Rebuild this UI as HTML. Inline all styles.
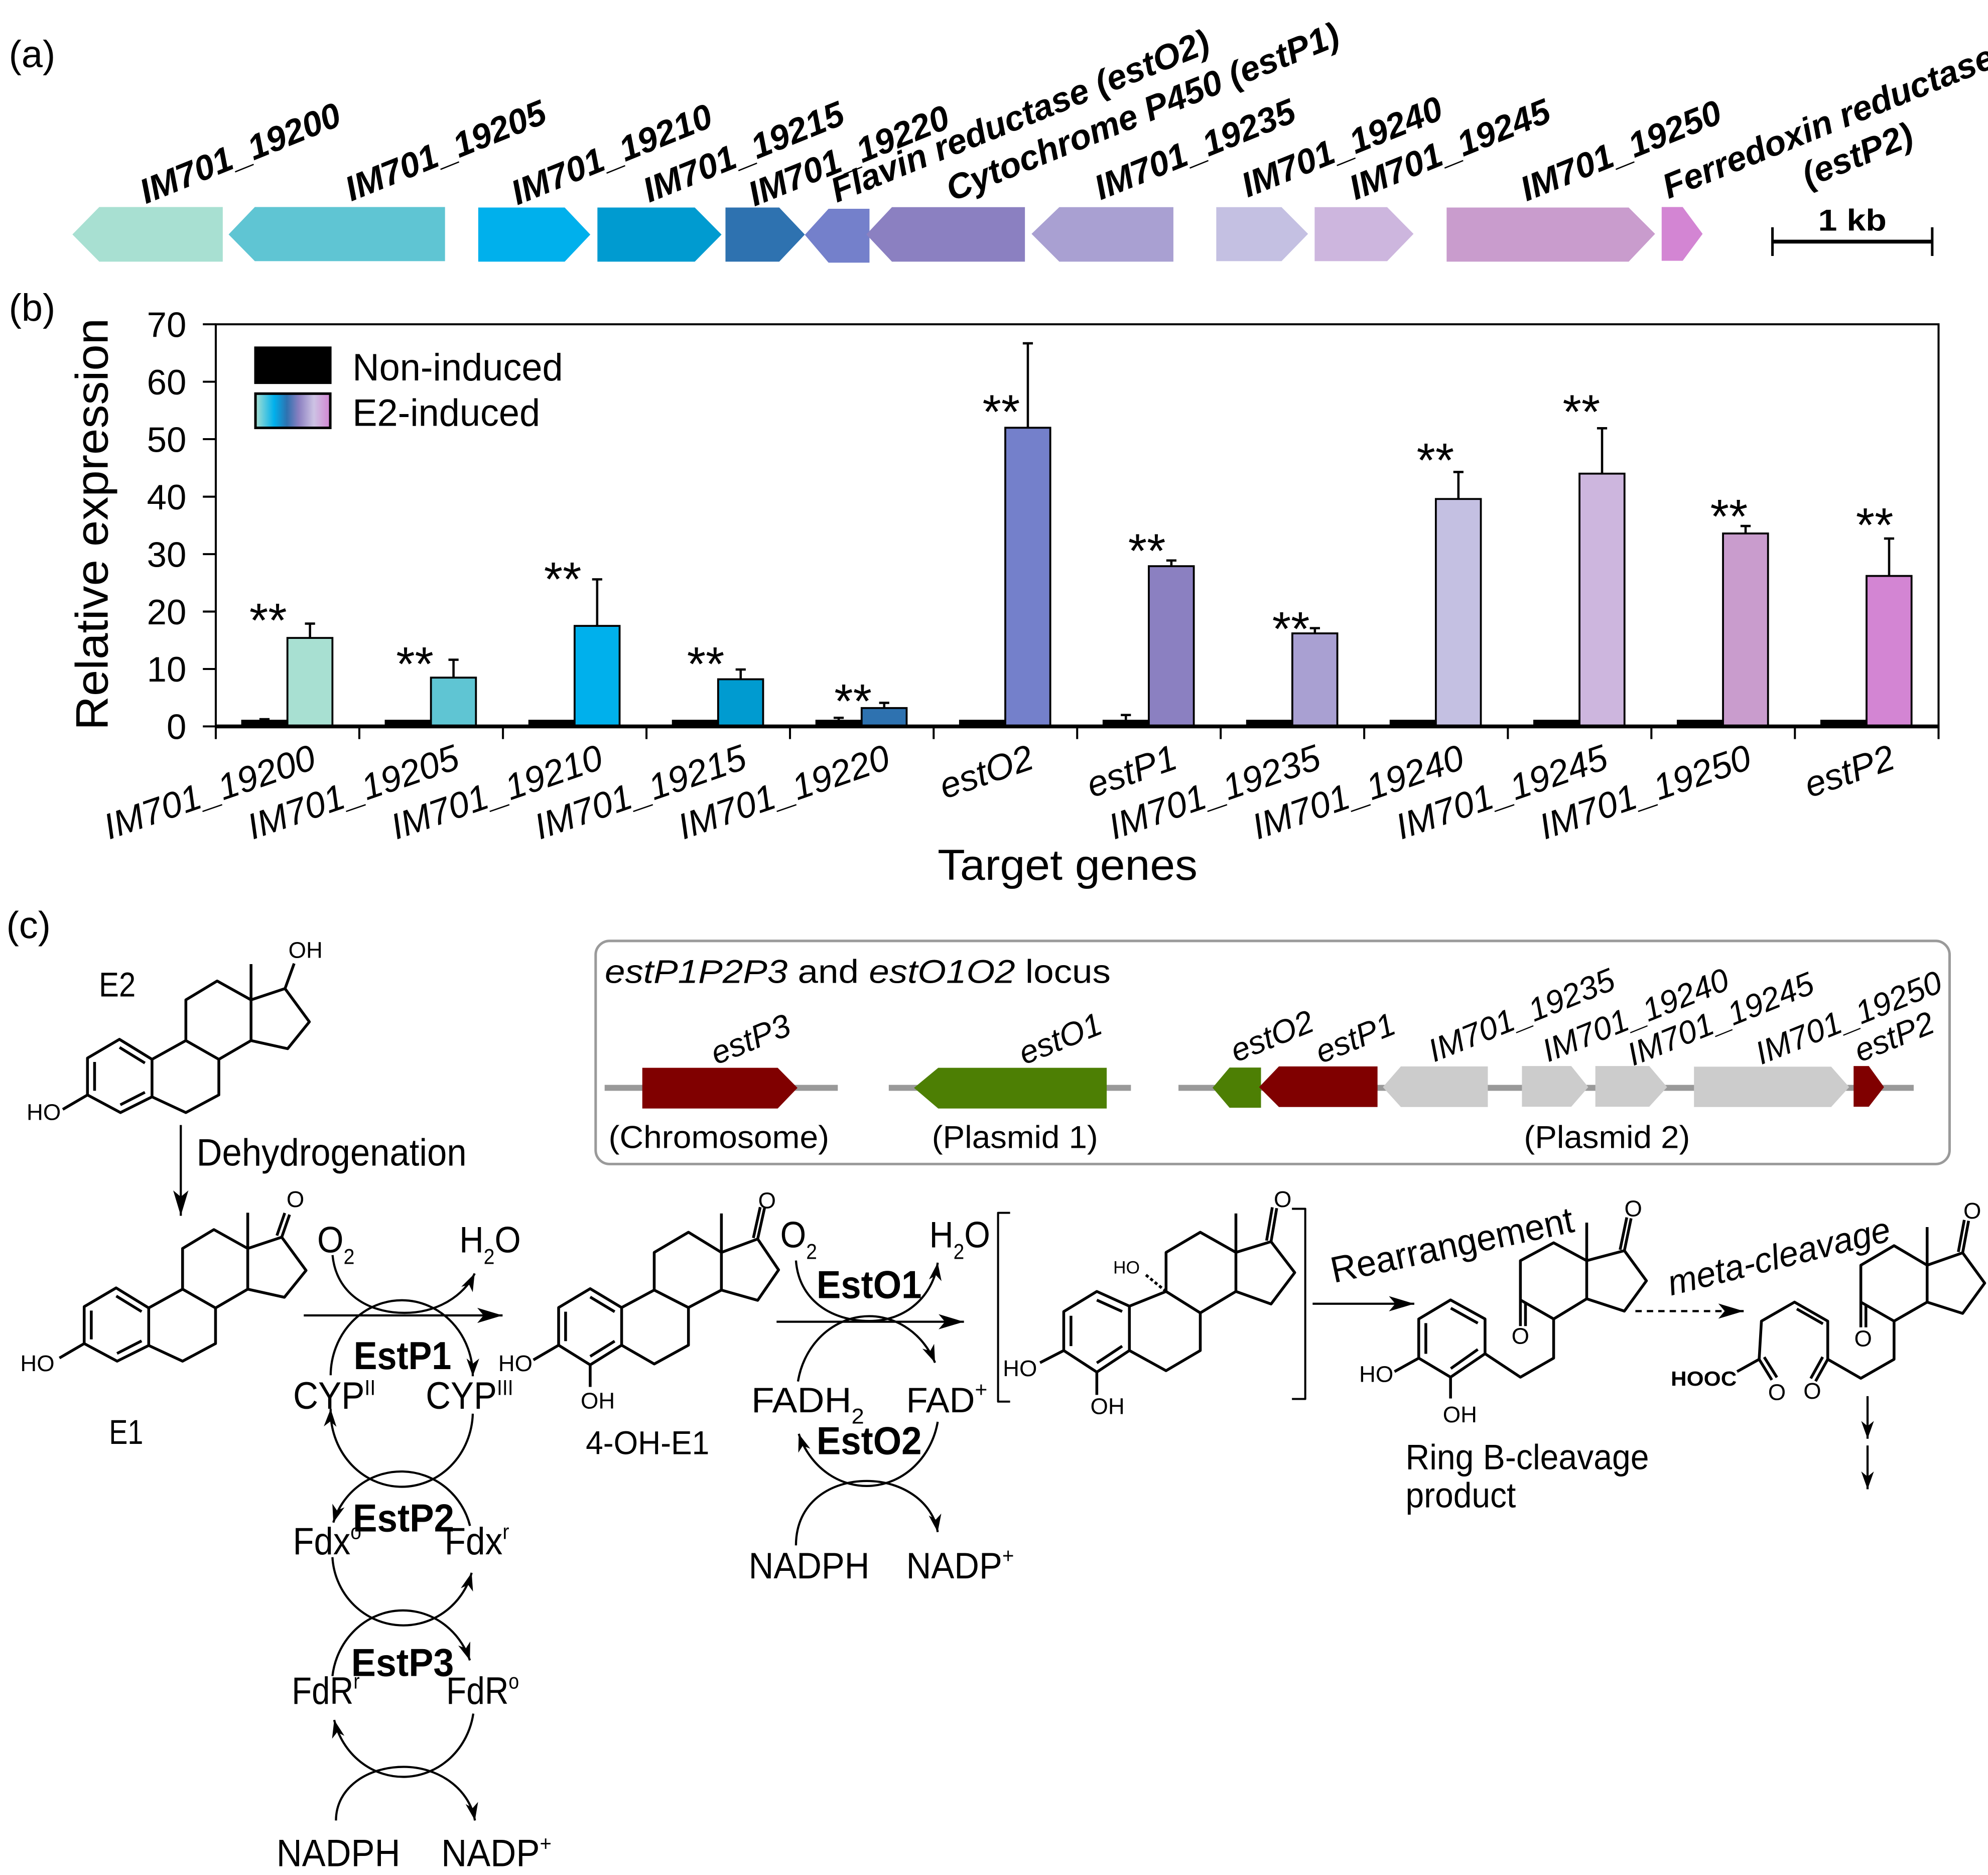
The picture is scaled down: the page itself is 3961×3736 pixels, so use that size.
<!DOCTYPE html>
<html><head><meta charset="utf-8">
<style>html,body{margin:0;padding:0;background:#fff}svg{display:block}</style>
</head><body>
<svg xmlns="http://www.w3.org/2000/svg" width="3961" height="3736" viewBox="0 0 1568 1479" preserveAspectRatio="none" font-family="'Liberation Sans', Arial, sans-serif">
<defs>
<linearGradient id="lg" x1="0" x2="1" y1="0" y2="0">
<stop offset="0" stop-color="#a8e0d2"/><stop offset="0.25" stop-color="#00b0ec"/><stop offset="0.42" stop-color="#2e72b0"/><stop offset="0.58" stop-color="#8b80c1"/><stop offset="0.78" stop-color="#cdc3e4"/><stop offset="1" stop-color="#d385d3"/>
</linearGradient>
<marker id="big" viewBox="0 0 20 12" refX="20" refY="6" markerWidth="20" markerHeight="12" markerUnits="userSpaceOnUse" orient="auto"><path d="M0,0 L20,6 L0,12 L5,6 Z" fill="#000"/></marker>
<marker id="sm" viewBox="0 0 14 10" refX="14" refY="5" markerWidth="14" markerHeight="10" markerUnits="userSpaceOnUse" orient="auto"><path d="M0,0 L14,5 L0,10 L4,5 Z" fill="#000"/></marker>
</defs>
<rect x="0" y="0" width="1568" height="1479" fill="#fff"/>

<!-- panel labels -->
<text x="7" y="53" font-size="30">(a)</text>
<text x="7" y="253" font-size="30">(b)</text>
<text x="5" y="740" font-size="30">(c)</text>

<!-- ===== Panel A ===== -->
<g stroke="none">
<polygon points="57.1,184.9 78.3,163.3 175.7,163.3 175.7,206.4 78.3,206.4" fill="#a8e0d2"/>
<polygon points="180.3,184.9 201,163.3 351,163.3 351,206 201,206" fill="#5fc5d3"/>
<polygon points="377.2,163.7 445.4,163.7 465.6,185 445.4,206.4 377.2,206.4" fill="#00b0ec"/>
<polygon points="471.2,163.7 548,163.7 569.1,185 548,206.4 471.2,206.4" fill="#009bd0"/>
<polygon points="572.2,163.7 614.6,163.7 634.8,185 614.6,206.4 572.2,206.4" fill="#2e72b0"/>
<polygon points="634.8,185.2 653.5,164.7 685.8,164.7 685.8,207.2 653.5,207.2" fill="#7480cb"/>
<polygon points="683.3,184.9 703.5,163.4 808.4,163.4 808.4,206.4 703.5,206.4" fill="#8b80c1"/>
<polygon points="813.6,184.5 835.5,163.4 925.5,163.4 925.5,206.4 835.5,206.4" fill="#a9a0d2"/>
<polygon points="959.3,163.4 1010.8,163.4 1031.7,184.5 1010.8,206 959.3,206" fill="#c4c0e2"/>
<polygon points="1036.9,163.4 1094.1,163.4 1114.9,184.5 1094.1,206 1036.9,206" fill="#cdb6de"/>
<polygon points="1141,163.7 1284.6,163.7 1305.4,184.5 1284.6,206.4 1141,206.4" fill="#c99ccd"/>
<polygon points="1310.6,163.3 1327.2,163.3 1342.9,184.5 1327.2,205.7 1310.6,205.7" fill="#d385d3"/>
</g>
<g font-weight="bold" font-style="italic" font-size="27.5" fill="#000">
<text transform="translate(115,161) rotate(-22)">IM701_19200</text>
<text transform="translate(277,159) rotate(-22)">IM701_19205</text>
<text transform="translate(408,162) rotate(-22)">IM701_19210</text>
<text transform="translate(512,160) rotate(-22)">IM701_19215</text>
<text transform="translate(595,163) rotate(-22)">IM701_19220</text>
<text transform="translate(660,160) rotate(-22)">Flavin reductase (estO2)</text>
<text transform="translate(751,159) rotate(-22)">Cytochrome P450 (estP1)</text>
<text transform="translate(868,158) rotate(-22)">IM701_19235</text>
<text transform="translate(984,156) rotate(-22)">IM701_19240</text>
<text transform="translate(1069,158) rotate(-22)">IM701_19245</text>
<text transform="translate(1204,159) rotate(-22)">IM701_19250</text>
<text transform="translate(1316,157) rotate(-22)">Ferredoxin reductase</text>
<text transform="translate(1426,148) rotate(-22)">(estP2)</text>
</g>
<g stroke="#000">
<line x1="1398" y1="190.6" x2="1524" y2="190.6" stroke-width="3"/>
<line x1="1398" y1="179.3" x2="1398" y2="201.9" stroke-width="2"/>
<line x1="1524" y1="179.3" x2="1524" y2="201.9" stroke-width="2"/>
</g>
<text x="1461" y="182" text-anchor="middle" font-weight="bold" font-size="24" textLength="54" lengthAdjust="spacingAndGlyphs">1 kb</text>

<!-- ===== Panel B ===== -->
<g stroke="#000" stroke-width="1.5">
<rect x="226.7" y="503.2" width="35.5" height="69.8" fill="#a8e0d2"/>
<rect x="339.9" y="534.5" width="35.5" height="38.5" fill="#5fc5d3"/>
<rect x="453.2" y="493.7" width="35.5" height="79.3" fill="#00b0ec"/>
<rect x="566.4" y="535.8" width="35.5" height="37.2" fill="#009bd0"/>
<rect x="679.6" y="558.5" width="35.5" height="14.5" fill="#2e72b0"/>
<rect x="792.9" y="337.4" width="35.5" height="235.6" fill="#7480cb"/>
<rect x="906.1" y="446.6" width="35.5" height="126.4" fill="#8b80c1"/>
<rect x="1019.3" y="499.6" width="35.5" height="73.4" fill="#a9a0d2"/>
<rect x="1132.5" y="393.6" width="35.5" height="179.4" fill="#c4c0e2"/>
<rect x="1245.8" y="373.6" width="35.5" height="199.4" fill="#cdb6de"/>
<rect x="1359.0" y="420.8" width="35.5" height="152.2" fill="#c99ccd"/>
<rect x="1472.2" y="454.3" width="35.5" height="118.7" fill="#d385d3"/>
<rect x="191.0" y="568.5" width="35.2" height="4.5" fill="#000"/>
<rect x="304.2" y="568.5" width="35.2" height="4.5" fill="#000"/>
<rect x="417.5" y="568.5" width="35.2" height="4.5" fill="#000"/>
<rect x="530.7" y="568.5" width="35.2" height="4.5" fill="#000"/>
<rect x="643.9" y="568.5" width="35.2" height="4.5" fill="#000"/>
<rect x="757.2" y="568.5" width="35.2" height="4.5" fill="#000"/>
<rect x="870.4" y="568.5" width="35.2" height="4.5" fill="#000"/>
<rect x="983.6" y="568.5" width="35.2" height="4.5" fill="#000"/>
<rect x="1096.8" y="568.5" width="35.2" height="4.5" fill="#000"/>
<rect x="1210.1" y="568.5" width="35.2" height="4.5" fill="#000"/>
<rect x="1323.3" y="568.5" width="35.2" height="4.5" fill="#000"/>
<rect x="1436.5" y="568.5" width="35.2" height="4.5" fill="#000"/>
<path d="M244.5,503.2 V491.9 M240.5,491.9 H248.5
M357.7,534.5 V520.4 M353.7,520.4 H361.7
M471,493.7 V457 M467,457 H475
M584.2,535.8 V528.1 M580.2,528.1 H588.2
M697.4,558.5 V554.4 M693.4,554.4 H701.4
M810.7,337.4 V270.8 M806.7,270.8 H814.7
M923.9,446.6 V442.1 M919.9,442.1 H927.9
M1037.1,499.6 V495.5 M1033.1,495.5 H1041.1
M1150.3,393.6 V372.3 M1146.3,372.3 H1154.3
M1263.6,373.6 V337.8 M1259.6,337.8 H1267.6
M1376.8,420.8 V414.9 M1372.8,414.9 H1380.8
M1490,454.3 V424.8 M1486,424.8 H1494
M661.5,568.5 V566.2 M657.5,566.2 H665.5
M888,568.5 V564 M884,564 H892
M208.6,568.5 V567.3 M204.6,567.3 H212.6" fill="none" stroke-width="1.8"/>
</g>
<rect x="170.2" y="255.8" width="1358.8" height="317.2" fill="none" stroke="#000" stroke-width="1.6"/>
<line x1="170.2" y1="573" x2="1529" y2="573" stroke="#000" stroke-width="3"/>
<path d="M160,573 H170.2 M160,527.7 H170.2 M160,482.4 H170.2 M160,437.1 H170.2 M160,391.8 H170.2 M160,346.4 H170.2 M160,301.1 H170.2 M160,255.8 H170.2
M170.2,573 V583 M283.4,573 V583 M396.7,573 V583 M509.9,573 V583 M623.1,573 V583 M736.4,573 V583 M849.6,573 V583 M962.8,573 V583 M1076,573 V583 M1189.3,573 V583 M1302.5,573 V583 M1415.7,573 V583 M1529,573 V583" stroke="#000" stroke-width="1.6" fill="none"/>
<g font-size="28" text-anchor="end">
<text x="147" y="583">0</text>
<text x="147" y="537.7">10</text>
<text x="147" y="492.4">20</text>
<text x="147" y="447.1">30</text>
<text x="147" y="401.8">40</text>
<text x="147" y="356.4">50</text>
<text x="147" y="311.1">60</text>
<text x="147" y="265.8">70</text>
</g>
<text transform="translate(85,413.5) rotate(-90)" text-anchor="middle" font-size="36" textLength="325" lengthAdjust="spacingAndGlyphs">Relative expression</text>
<text x="842" y="694" text-anchor="middle" font-size="34" textLength="205" lengthAdjust="spacingAndGlyphs">Target genes</text>
<rect x="200.5" y="273.3" width="61" height="29.6" fill="#000"/>
<rect x="201.5" y="310.5" width="59" height="27" fill="url(#lg)" stroke="#000" stroke-width="2"/>
<text x="278" y="300" font-size="30" textLength="166" lengthAdjust="spacingAndGlyphs">Non-induced</text>
<text x="278" y="336" font-size="30" textLength="148" lengthAdjust="spacingAndGlyphs">E2-induced</text>
<g font-size="38" text-anchor="middle">
<text x="211.5" y="502.3">**</text>
<text x="327.2" y="536.8">**</text>
<text x="443.8" y="470">**</text>
<text x="556.6" y="536.8">**</text>
<text x="672.8" y="566.1">**</text>
<text x="789.7" y="337.8">**</text>
<text x="904.6" y="447.5">**</text>
<text x="1018.2" y="509.1">**</text>
<text x="1132.1" y="376">**</text>
<text x="1247.3" y="337.8">**</text>
<text x="1363.7" y="420.4">**</text>
<text x="1478.6" y="427.2">**</text>
</g>
<g font-size="28.5" font-style="italic" text-anchor="end">
<text transform="translate(250.8,605.6) rotate(-19)">IM701_19200</text>
<text transform="translate(364,605.6) rotate(-19)">IM701_19205</text>
<text transform="translate(477.3,605.6) rotate(-19)">IM701_19210</text>
<text transform="translate(590.5,605.6) rotate(-19)">IM701_19215</text>
<text transform="translate(703.7,605.6) rotate(-19)">IM701_19220</text>
<text transform="translate(817,605.6) rotate(-19)">estO2</text>
<text transform="translate(930.2,605.6) rotate(-19)">estP1</text>
<text transform="translate(1043.4,605.6) rotate(-19)">IM701_19235</text>
<text transform="translate(1156.6,605.6) rotate(-19)">IM701_19240</text>
<text transform="translate(1269.9,605.6) rotate(-19)">IM701_19245</text>
<text transform="translate(1383.1,605.6) rotate(-19)">IM701_19250</text>
<text transform="translate(1496.3,605.6) rotate(-19)">estP2</text>
</g>

<!-- ===== Panel C ===== -->
<rect x="469.8" y="742.2" width="1067.9" height="176" rx="11" ry="11" fill="none" stroke="#9a9a9a" stroke-width="2"/>
<text x="477" y="775.4" font-size="26" textLength="399" lengthAdjust="spacingAndGlyphs"><tspan font-style="italic">estP1P2P3</tspan> and <tspan font-style="italic">estO1O2</tspan> locus</text>
<g stroke="#999" stroke-width="4.7">
<line x1="476.9" y1="858.1" x2="660.8" y2="858.1"/>
<line x1="701" y1="858.1" x2="892" y2="858.1"/>
<line x1="929.5" y1="858.1" x2="1509.4" y2="858.1"/>
</g>
<polygon points="506.6,842.3 613.4,842.3 629,858.1 613.4,874.4 506.6,874.4" fill="#800000"/>
<polygon points="720.9,858.1 740,842.3 872.9,842.3 872.9,874.4 740,874.4" fill="#4d7f04"/>
<polygon points="956.4,858 969.8,842.1 994.6,842.1 994.6,873.8 969.8,873.8" fill="#4d7f04"/>
<polygon points="993.1,857.5 1008.7,841.2 1086.5,841.2 1086.5,873.2 1008.7,873.2" fill="#800000"/>
<polygon points="1090.7,857.5 1104.9,841.2 1173.5,841.2 1173.5,873.2 1104.9,873.2" fill="#cccccc"/>
<polygon points="1200.4,840.9 1239.3,840.9 1252.7,857.5 1239.3,873 1200.4,873" fill="#cccccc"/>
<polygon points="1258.3,840.9 1300.8,840.9 1314.9,857.5 1300.8,873 1258.3,873" fill="#cccccc"/>
<polygon points="1336.1,841.4 1444.3,841.4 1458.5,857.5 1444.3,873.2 1336.1,873.2" fill="#cccccc"/>
<polygon points="1462,840.9 1474,840.9 1486,857.5 1474,873 1462,873" fill="#800000"/>
<g font-size="25.5" font-style="italic">
<text transform="translate(565,840) rotate(-22)">estP3</text>
<text transform="translate(808,840) rotate(-22)">estO1</text>
<text transform="translate(975,838) rotate(-22)">estO2</text>
<text transform="translate(1042,839) rotate(-22)">estP1</text>
<text transform="translate(1131,838) rotate(-22)">IM701_19235</text>
<text transform="translate(1221,838) rotate(-22)">IM701_19240</text>
<text transform="translate(1288,841) rotate(-22)">IM701_19245</text>
<text transform="translate(1389,840) rotate(-22)">IM701_19250</text>
<text transform="translate(1467,838) rotate(-22)">estP2</text>
</g>
<text x="480" y="905.5" font-size="25" textLength="174" lengthAdjust="spacingAndGlyphs">(Chromosome)</text>
<text x="735" y="905.5" font-size="25" textLength="131" lengthAdjust="spacingAndGlyphs">(Plasmid 1)</text>
<text x="1202" y="905.5" font-size="25" textLength="131" lengthAdjust="spacingAndGlyphs">(Plasmid 2)</text>

<g fill="none" stroke="#000" stroke-width="2.2" stroke-linejoin="round">
<path d="M69,834.6 L94.2,819.8 L119.9,835.6 L119.9,865.2 L95,877.6 L69,863.7 Z M74.6,837.7 L74.6,860.4 M94.3,826.2 L114.3,838.5 M114.3,861.6 L94.9,871.5 M119.9,835.6 L146.6,820.8 L172.6,835.6 L172.6,863.7 L146.6,877.6 L119.9,865.2 M146.6,820.8 L146.6,788.7 L171.3,773.8 L198,788.7 L198,820.8 L172.6,835.6 M198,788.7 L224.8,779.8 L244,806 L226.9,827.2 L198,820.8 M198,788.7 L198,760.5 M69,863.7 L49.5,875.1 M224.8,779.8 L232,760"/>
<g transform="translate(-2.6,196.1)">
<path d="M69,834.6 L94.2,819.8 L119.9,835.6 L119.9,865.2 L95,877.6 L69,863.7 Z M74.6,837.7 L74.6,860.4 M94.3,826.2 L114.3,838.5 M114.3,861.6 L94.9,871.5 M119.9,835.6 L146.6,820.8 L172.6,835.6 L172.6,863.7 L146.6,877.6 L119.9,865.2 M146.6,820.8 L146.6,788.7 L171.3,773.8 L198,788.7 L198,820.8 L172.6,835.6 M198,788.7 L224.8,779.8 L244,806 L226.9,827.2 L198,820.8 M198,788.7 L198,760.5 M69,863.7 L49.5,875.1 M224.8,779.8 L231,762 M221,778.5 L227.2,760.7"/>
</g>
<path d="M465.5,1016.5 L490.3,1031.4 L490.3,1061.1 L465.5,1076.6 L440.6,1061.1 L440.6,1031.4 Z M465.5,1023.1 L484.8,1034.7 M446.1,1034.7 L446.1,1057.9 M484.8,1057.9 L465.5,1069.9 M490.3,1031.4 L516,1017.6 L543,1031.4 L543,1061.1 L516,1075.9 L490.3,1061.1 M516,1017.6 L516,987.9 L543,972 L569,987.9 L569,1017.6 L543,1031.4 M569,987.9 L597.6,977.3 L614.1,1001.7 L597.6,1025.7 L569,1017.6 M569,987.9 L569,957.2 M597.6,977.3 L603,953 M594.2,976.5 L599.6,952.2 M440.6,1061.1 L420.7,1072.7 M465.5,1076.6 L465.5,1094"/>
<path d="M865.1,1018.7 L890.8,1030.3 L890.8,1065.3 L865.1,1082.3 L839,1065.3 L839,1034.6 Z M865.1,1025.5 L885.1,1034.5 M844.7,1037.9 L844.7,1061.8 M885.1,1061.8 L865.1,1075.1 M890.8,1030.3 L919.7,1018.7 L946.7,1035.6 L946.7,1065.3 L919.7,1081.2 L890.8,1065.3 M919.7,1018.7 L919.7,987.9 L946.7,972 L974.8,987.9 L974.8,1018.7 L946.7,1035.6 M974.8,987.9 L1002.5,979.4 L1021.2,1003.8 L1002.5,1028.6 L974.8,1018.7 M974.8,987.9 L974.8,957.2 M1002.5,979.4 L1007,953 M999,978.6 L1003.5,952.3 M839,1065.3 L820.3,1074.9 M865.1,1082.3 L865.1,1100.3"/>
<path d="M919.7,1018.7 L903,1005" stroke-dasharray="2.5 2"/>
<path d="M796.7,956.7 H787.2 V1105.6 H796.7 M1019,953.5 H1029.5 V1103.5 H1019" stroke-width="1.6"/>
<path d="M1144.1,1025.4 L1171.3,1040.4 L1171.3,1067.8 L1144.1,1086.3 L1119,1071.3 L1119,1040.4 Z M1144.3,1031.9 L1165.6,1043.7 M1165.6,1064.4 L1144.3,1079.5 M1124.6,1043.7 L1124.6,1067.9 M1171.3,1067.8 L1199.2,1086.3 L1225.4,1071.3 L1225.4,1040.4 M1225.4,1040.4 L1199.2,1025.4 L1199.2,994.4 L1225.4,980.3 L1251.5,994.4 L1251.5,1024.5 Z M1199.2,1025.4 L1199.2,1046 M1203.2,1027.5 L1203.2,1046 M1251.5,994.4 L1281.2,986.5 L1298.6,1010.3 L1281.2,1034.2 L1251.5,1024.5 M1281.2,986.5 L1286.5,961 M1277.8,985.8 L1283.1,960.3 M1251.5,994.4 L1251.5,964.4 M1119,1071.3 L1099.9,1081.9 M1144.1,1086.3 L1144.1,1103.1"/>
<path d="M1370.1,1081.9 L1387.5,1072.2 L1389.3,1042.1 L1415.4,1027.1 L1441.6,1042.1 L1441.6,1072.2 L1467.7,1087.2 L1493.9,1072.2 L1493.9,1042.1 M1417.2,1032.5 L1437.8,1044.2 M1387.5,1072.2 L1397.5,1088.5 M1391.5,1070.5 L1401.5,1086.5 M1441.6,1072.2 L1432,1089.5 M1437.6,1070.4 L1428.2,1087.3 M1493.9,1042.1 L1467.7,1027.1 L1467.7,998 L1493.9,982.6 L1520,998 L1520,1027.1 Z M1467.7,1027.1 L1467.7,1047 M1471.7,1029.4 L1471.7,1047 M1520,998 L1548,988.2 L1565.4,1012.1 L1548,1036 L1520,1027.1 M1548,988.2 L1552.7,963 M1544.6,987.5 L1549.3,962.3 M1520,998 L1520,967.9"/>
</g>

<g fill="none" stroke="#000" stroke-width="1.7">
<path d="M142.6,887.4 L142.6,959" marker-end="url(#big)"/>
<path d="M239.6,1037.6 L396.4,1037.6" marker-end="url(#big)"/>
<path d="M612.5,1042.6 L760.3,1042.6" marker-end="url(#big)"/>
<path d="M1035.3,1028.4 L1115.5,1028.4" marker-end="url(#big)"/>
<path d="M1289.9,1034.2 L1375.3,1034.2" stroke-dasharray="5 4" marker-end="url(#big)"/>
<path d="M1473,1101.3 L1473,1134.9" marker-end="url(#sm)"/>
<path d="M1473,1140.2 L1473,1174.7" marker-end="url(#sm)"/>
<path d="M262.3,990 C265,1020 290,1035.6 319,1035.6 C345,1035.6 366,1022 374.4,1004.5" marker-end="url(#sm)"/>
<path d="M260.8,1084.8 A56,59.5 0 0 1 372.9,1085.6" marker-end="url(#sm)"/>
<path d="M372.9,1115.1 A56,59.5 0 0 1 260.8,1111.3" marker-end="url(#sm)"/>
<path d="M370.7,1203.6 A56,57 0 0 0 262.9,1201" marker-end="url(#sm)"/>
<path d="M262.2,1228.3 A56,57 0 0 0 372,1240.6" marker-end="url(#sm)"/>
<path d="M262.2,1322.1 A56,59 0 0 1 370.6,1309.7" marker-end="url(#sm)"/>
<path d="M373.3,1351.7 A56,59 0 0 1 263.6,1356.7" marker-end="url(#sm)"/>
<path d="M265,1436 C265,1410 290,1393.7 318.4,1393.7 C345,1393.7 370,1410 374.6,1436" marker-end="url(#sm)"/>
<path d="M627.8,994.3 C630,1025 655,1042 685.8,1042 C715,1042 736,1022 739.6,996" marker-end="url(#sm)"/>
<path d="M629.4,1089.7 A57,62.3 0 0 1 737.5,1074.9" marker-end="url(#sm)"/>
<path d="M739.6,1121.5 A57,62.3 0 0 1 630,1131" marker-end="url(#sm)"/>
<path d="M627.8,1219 C627.8,1185 655,1168.2 683.7,1168.2 C712,1168.2 736,1185 739.6,1208.5" marker-end="url(#sm)"/>
</g>

<g font-size="18">
<text x="227.5" y="755.5">OH</text>
<text x="21" y="883.5">HO</text>
<text x="233" y="952" text-anchor="middle">O</text>
<text x="16" y="1081.5">HO</text>
<text x="605" y="953" text-anchor="middle">O</text>
<text x="393" y="1081.5">HO</text>
<text x="458" y="1111">OH</text>
<text x="1011.7" y="952" text-anchor="middle">O</text>
<text x="791" y="1085.5">HO</text>
<text x="860" y="1115.3">OH</text>
<text x="878" y="1004.6" font-size="14">HO</text>
<text x="1199.2" y="1060" text-anchor="middle">O</text>
<text x="1288.2" y="959.5" text-anchor="middle">O</text>
<text x="1072" y="1090">HO</text>
<text x="1138" y="1122">OH</text>
<text x="1401.5" y="1104.3" text-anchor="middle">O</text>
<text x="1429.4" y="1103.4" text-anchor="middle">O</text>
<text x="1469.5" y="1062" text-anchor="middle">O</text>
<text x="1555.6" y="961.2" text-anchor="middle">O</text>
<text x="1317.8" y="1093" font-size="16" font-weight="bold" textLength="52" lengthAdjust="spacingAndGlyphs">HOOC</text>
</g>

<g font-size="30">
<text x="78" y="786" font-size="27" textLength="29" lengthAdjust="spacingAndGlyphs">E2</text>
<text x="86" y="1139" font-size="27" textLength="27" lengthAdjust="spacingAndGlyphs">E1</text>
<text x="155" y="919.5" textLength="213" lengthAdjust="spacingAndGlyphs">Dehydrogenation</text>
<text x="462" y="1147" font-size="26" textLength="97.5" lengthAdjust="spacingAndGlyphs">4-OH-E1</text>
<text x="250.2" y="988" font-size="29" textLength="29.5" lengthAdjust="spacingAndGlyphs">O<tspan font-size="17" dy="9">2</tspan></text>
<text x="362.3" y="988" font-size="29" textLength="48.5" lengthAdjust="spacingAndGlyphs">H<tspan font-size="17" dy="9">2</tspan><tspan dy="-9">O</tspan></text>
<text x="279" y="1080" font-weight="bold" font-size="31" textLength="77" lengthAdjust="spacingAndGlyphs">EstP1</text>
<text x="231.2" y="1111.3" textLength="65" lengthAdjust="spacingAndGlyphs">CYP<tspan font-size="17" dy="-11">II</tspan></text>
<text x="335.8" y="1111.3" textLength="69" lengthAdjust="spacingAndGlyphs">CYP<tspan font-size="17" dy="-11">III</tspan></text>
<text x="278.3" y="1208" font-weight="bold" font-size="31" textLength="80" lengthAdjust="spacingAndGlyphs">EstP2</text>
<text x="231" y="1226" textLength="54" lengthAdjust="spacingAndGlyphs">Fdx<tspan font-size="17" dy="-12">o</tspan></text>
<text x="350.6" y="1226" textLength="51" lengthAdjust="spacingAndGlyphs">Fdx<tspan font-size="17" dy="-12">r</tspan></text>
<text x="277" y="1322" font-weight="bold" font-size="31" textLength="81" lengthAdjust="spacingAndGlyphs">EstP3</text>
<text x="230.1" y="1344" textLength="53.6" lengthAdjust="spacingAndGlyphs">FdR<tspan font-size="17" dy="-12">r</tspan></text>
<text x="351.9" y="1344" textLength="57.5" lengthAdjust="spacingAndGlyphs">FdR<tspan font-size="17" dy="-12">o</tspan></text>
<text x="218" y="1472" textLength="97.7" lengthAdjust="spacingAndGlyphs">NADPH</text>
<text x="348" y="1472" textLength="87" lengthAdjust="spacingAndGlyphs">NADP<tspan font-size="17" dy="-12">+</tspan></text>
<text x="615.4" y="984" font-size="29" textLength="29" lengthAdjust="spacingAndGlyphs">O<tspan font-size="17" dy="9">2</tspan></text>
<text x="733" y="984" font-size="29" textLength="48" lengthAdjust="spacingAndGlyphs">H<tspan font-size="17" dy="9">2</tspan><tspan dy="-9">O</tspan></text>
<text x="644" y="1024" font-weight="bold" font-size="31" textLength="83" lengthAdjust="spacingAndGlyphs">EstO1</text>
<text x="592.6" y="1114" font-size="28" textLength="89" lengthAdjust="spacingAndGlyphs">FADH<tspan font-size="17" dy="9">2</tspan></text>
<text x="714.8" y="1114" font-size="28" textLength="64" lengthAdjust="spacingAndGlyphs">FAD<tspan font-size="17" dy="-12">+</tspan></text>
<text x="644" y="1147" font-weight="bold" font-size="31" textLength="83" lengthAdjust="spacingAndGlyphs">EstO2</text>
<text x="590.5" y="1245" font-size="29" textLength="95.3" lengthAdjust="spacingAndGlyphs">NADPH</text>
<text x="714.8" y="1245" font-size="29" textLength="85" lengthAdjust="spacingAndGlyphs">NADP<tspan font-size="17" dy="-12">+</tspan></text>
<text transform="translate(1052,1012) rotate(-12)" font-size="29" textLength="195" lengthAdjust="spacingAndGlyphs">Rearrangement</text>
<text transform="translate(1318,1022) rotate(-14)" font-size="28" font-style="italic" textLength="180" lengthAdjust="spacingAndGlyphs">meta-cleavage</text>
<text x="1108.6" y="1159" font-size="28" textLength="192" lengthAdjust="spacingAndGlyphs">Ring B-cleavage</text>
<text x="1108.6" y="1189" font-size="28" textLength="87" lengthAdjust="spacingAndGlyphs">product</text>
</g>
</svg>
</body></html>
